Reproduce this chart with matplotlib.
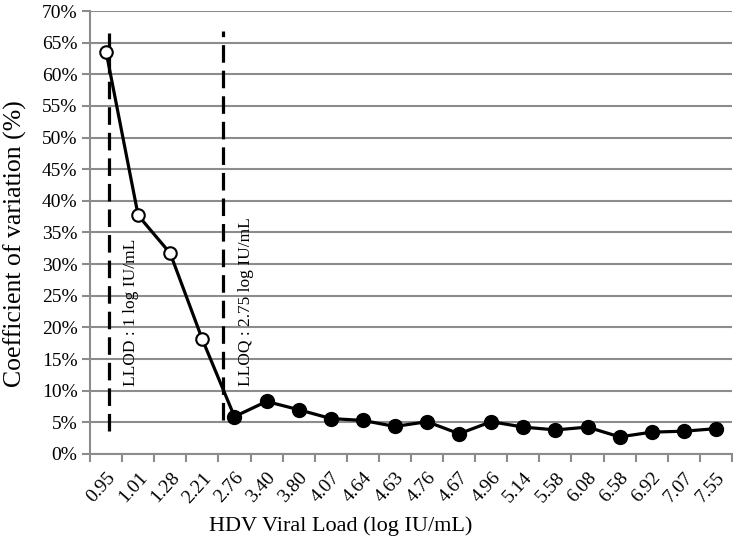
import matplotlib

matplotlib.use("Agg")
import matplotlib.pyplot as plt
from matplotlib.transforms import ScaledTranslation

plt.rcParams["font.family"] = ["Liberation Serif", "DejaVu Serif"]

GRID_GREY = "#8c8c8c"

viral_load = ["0.95", "1.01", "1.28", "2.21", "2.76", "3.40", "3.80", "4.07",
              "4.64", "4.63", "4.76", "4.67", "4.96", "5.14", "5.58", "6.08",
              "6.58", "6.92", "7.07", "7.55"]
cv_pct = [63.6, 37.7, 31.7, 18.1, 5.9, 8.3, 7.0, 5.6, 5.3, 4.35,
          5.1, 3.2, 5.1, 4.25, 3.8, 4.25, 2.7, 3.45, 3.6, 4.0]
n_open = 4  # points below LLOQ drawn hollow

# reference lines: (category position, y from, y to, label)
llod = (0.08, 3.6, 66.5, "LLOD : 1 log IU/mL")
lloq = (3.65, 5.4, 66.9, "LLOQ : 2.75 log IU/mL")


def main():
    fig = plt.figure(figsize=(7.33, 5.4), dpi=100)
    ax = fig.add_axes([0.1228, 0.1593, 0.8758, 0.8203])

    x = list(range(len(viral_load)))

    ax.set_xlim(-0.5, len(viral_load) - 0.5)
    ax.set_ylim(0, 70)
    ax.set_yticks(range(0, 71, 5))
    ax.set_yticklabels([f"{v}%" for v in range(0, 71, 5)], fontsize=14)
    ax.yaxis.grid(True, color=GRID_GREY, linewidth=1.5)
    ax.set_axisbelow(True)

    # category ticks sit between categories, labels at centres
    ax.set_xticks([i - 0.5 for i in range(len(viral_load) + 1)])
    ax.set_xticklabels([])
    ax.set_xticks(x, minor=True)
    ax.set_xticklabels(viral_load, minor=True, rotation=48, ha="right",
                       rotation_mode="anchor", fontsize=14)
    shift = ScaledTranslation(0.09, 0, fig.dpi_scale_trans)
    for lab in ax.get_xticklabels(minor=True):
        lab.set_transform(lab.get_transform() + shift)
    ax.tick_params(axis="x", which="minor", length=0, pad=11)
    ax.tick_params(axis="x", which="major", length=6, width=1.5, color=GRID_GREY)
    ax.tick_params(axis="y", length=6, width=1.5, color=GRID_GREY, pad=3)

    for side in ("top", "right"):
        ax.spines[side].set_visible(False)
    for side in ("left", "bottom"):
        ax.spines[side].set_color(GRID_GREY)
        ax.spines[side].set_linewidth(1.5)

    for pos, y0, y1, label in (llod, lloq):
        ax.plot([pos, pos], [y0, y1], color="black", linestyle=(0, (5.5, 2.5)),
                linewidth=2.3, zorder=2)
        ax.text(pos + 0.7, 10.7, label, rotation=90, ha="center", va="bottom",
                fontsize=12.5)

    ax.plot(x, cv_pct, color="black", linewidth=2.3, zorder=3)
    ax.plot(x[:n_open], cv_pct[:n_open], "o", markersize=9,
            markerfacecolor="white", markeredgecolor="black",
            markeredgewidth=1.5, zorder=4)
    ax.plot(x[n_open:], cv_pct[n_open:], "o", markersize=10,
            color="black", zorder=4)

    ax.set_xlabel("HDV Viral Load (log IU/mL)", fontsize=16)
    ax.xaxis.set_label_coords(0.391, -0.14)
    ax.set_ylabel("Coefficient of variation (%)", fontsize=18.5)
    ax.yaxis.set_label_coords(-0.098, 0.474)

    fig.savefig("out.png", dpi=100, facecolor="white")
    plt.close(fig)


if __name__ == "__main__":
    main()
